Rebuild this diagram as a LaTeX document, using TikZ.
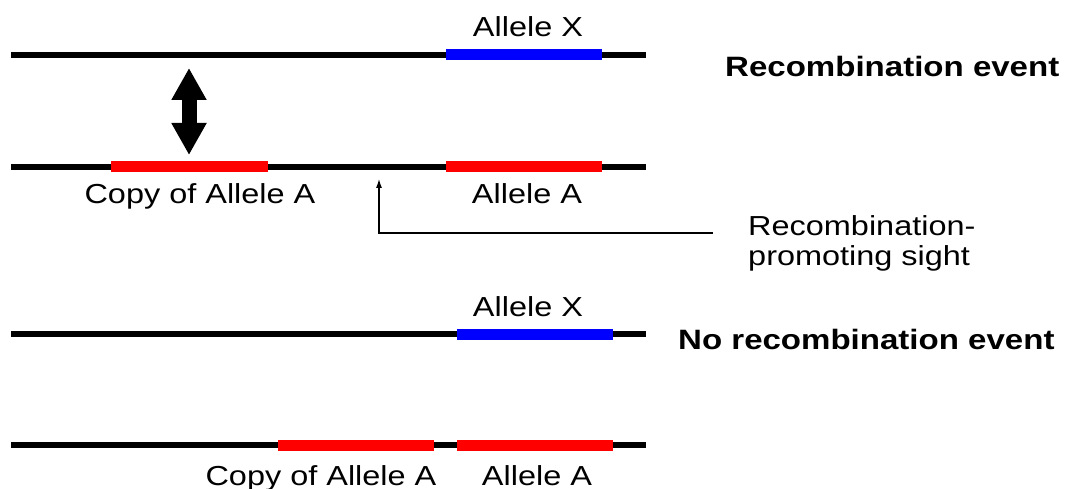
\documentclass[tikz,border=0pt]{standalone}
\usepackage{fontspec}
\setmainfont{Liberation Sans}[FakeStretch=1.18]
\usetikzlibrary{arrows.meta}

\tikzstyle{chromo} = [draw, line width=6pt, black]
\tikzstyle{gene} = [draw, line width=11pt]
\tikzstyle{label} = [inner sep=0pt, font=\fontsize{27.5}{30}\selectfont]
\tikzstyle{event} = [label, anchor=base west, font=\fontsize{28}{30}\selectfont\bfseries]
\tikzstyle{swap} = [draw, line width=15pt, {Triangle[length=32pt,width=33pt]}-{Triangle[length=32pt,width=33pt]}]
\tikzstyle{pointer} = [draw, line width=1.1pt, -{Latex[length=9pt,width=6pt]}]

\begin{document}
\begin{tikzpicture}[x=1pt, y=-1pt]
\useasboundingbox (0,0) rectangle (1065,489);
\fill[white] (0,0) rectangle (1065,489);

% chromosomes
\foreach \y in {55,167,334,445}
  \path [chromo] (11,\y) -- (646,\y);

\path [gene, blue] (446,55) -- (602,55);
\path [gene, red] (111,167) -- (268,167);
\path [gene, red] (446,167) -- (602,167);
\path [gene, blue] (457,334) -- (613,334);
\path [gene, red] (278,445) -- (434,445);
\path [gene, red] (457,445) -- (613,445);

% labels
\node [label, anchor=base] (allX1) at (528,37) {Allele X};
\node [label, anchor=base] (copyA1) at (200,204) {Copy of Allele A};
\node [label, anchor=base] (alleleA1) at (527,204) {Allele A};
\node [label, anchor=base] (allX2) at (528,316) {Allele X};
\node [label, anchor=base] (copyA2) at (321,485) {Copy of Allele A};
\node [label, anchor=base] (alleleA2) at (537,485) {Allele A};
\node [event] (recomb) at (725,77) {Recombination event};
\node [event] (norecomb) at (678,349) {No recombination event};
\node [label, anchor=west, align=left] (site) at (748,243) {Recombination-\\promoting sight};

% arrows
\coordinate (top) at (189,55);
\coordinate (bottom) at (189,167);
\coordinate (siteend) at (713,233);
\coordinate (spot) at (379,179);
\path [swap] (top) -- (bottom) [shorten <=13pt, shorten >=12pt];
\path [pointer] (siteend) -| (spot);
\end{tikzpicture}
\end{document}
